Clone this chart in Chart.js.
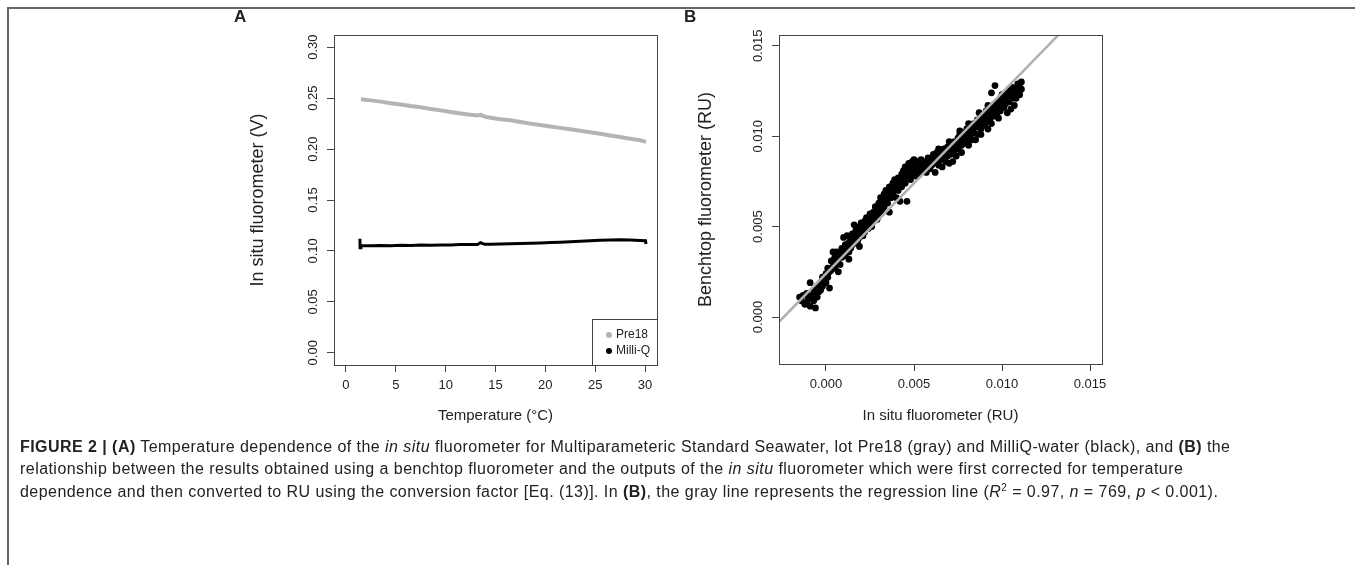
<!DOCTYPE html>
<html>
<head>
<meta charset="utf-8">
<script src="https://cdn.jsdelivr.net/npm/chart.js@4.4.0/dist/chart.umd.min.js"></script>
<style>
  body { margin: 0; background: #fff; }
  #page { position: relative; width: 1355px; height: 565px; overflow: hidden; background: #fff;
          font-family: "Liberation Sans", Arial, sans-serif; color: #222; }
  .frameTop { position: absolute; left: 8px; top: 7px; width: 1347px; height: 2px; background: #666; }
  .frameLeft { position: absolute; left: 7px; top: 7px; width: 2px; height: 558px; background: #666; }
  canvas { position: absolute; }
  .plab { position: absolute; font-weight: bold; font-size: 17px; }
  .legend { position: absolute; left: 592px; top: 319px; width: 64px; height: 45px; border: 1px solid #444;
            font-size: 12px; }
  .legend div { position: absolute; left: 23px; }
  .legend span { position: absolute; left: -10px; top: 5px; width: 6px; height: 6px; border-radius: 50%; }
  .cap { position: absolute; left: 20px; white-space: nowrap; font-family: "Liberation Sans", Arial, sans-serif;
         font-size: 16px; letter-spacing: 0.45px; color: #222; }
</style>
</head>
<body>
<div id="page">
  <div class="frameTop"></div>
  <div class="frameLeft"></div>
  <canvas id="chartA" width="440" height="440" style="left:230px;top:0"></canvas>
  <canvas id="chartB" width="440" height="440" style="left:680px;top:0"></canvas>
  <div class="plab" style="left:234px;top:7px">A</div>
  <div class="plab" style="left:684px;top:7px">B</div>
  <div class="legend">
    <div style="top:7px"><span style="background:#b4b4b4"></span>Pre18</div>
    <div style="top:23px"><span style="background:#000"></span>Milli-Q</div>
  </div>
  <div class="cap" style="top:438px"><b>FIGURE 2 | (A)</b> Temperature dependence of the <i>in situ</i> fluorometer for Multiparameteric Standard Seawater, lot Pre18 (gray) and MilliQ-water (black), and <b>(B)</b> the</div>
  <div class="cap" style="top:460px">relationship between the results obtained using a benchtop fluorometer and the outputs of the <i>in situ</i> fluorometer which were first corrected for temperature</div>
  <div class="cap" style="top:482px">dependence and then converted to RU using the conversion factor [Eq. (13)]. In <b>(B)</b>, the gray line represents the regression line (<i>R</i><sup style="font-size:10px">2</sup> = 0.97, <i>n</i> = 769, <i>p</i> &lt; 0.001).</div>
</div>
<script>
// ---- panel A data: temperature dependence ----
var preTemp = [1.5, 2.5, 3.5, 4.5, 5.5, 6.5, 7.5, 8.5, 9.5, 10.5, 11.5, 12.5, 13.2, 13.5, 13.9, 14.5, 15.5, 16.5,
  17.5, 18.5, 19.5, 20.5, 21.5, 22.5, 23.5, 24.5, 25.5, 26.5, 27.5, 28.5, 29.5, 30.1];
var preVolt = [0.2490, 0.2478, 0.2466, 0.2449, 0.2437, 0.2422, 0.2410, 0.2393, 0.2380, 0.2364, 0.2349, 0.2336,
  0.2330, 0.2336, 0.2318, 0.2308, 0.2293, 0.2282, 0.2265, 0.2250, 0.2236, 0.2222, 0.2208, 0.2194, 0.2180,
  0.2165, 0.2150, 0.2134, 0.2118, 0.2102, 0.2086, 0.2070];
var mqTemp = [1.40, 1.42, 1.5, 2.5, 3.5, 4.5, 5.5, 6.5, 7.5, 8.5, 9.5, 10.5, 11.5, 12.5, 13.2, 13.5, 13.9, 14.5,
  15.5, 16.5, 17.5, 18.5, 19.5, 20.5, 21.5, 22.5, 23.5, 24.5, 25.5, 26.5, 27.5, 28.5, 29.5, 30.05, 30.1];
var mqVolt = [0.1120, 0.1030, 0.1052, 0.1050, 0.1053, 0.1051, 0.1055, 0.1054, 0.1057, 0.1056, 0.1059, 0.1058,
  0.1062, 0.1063, 0.1064, 0.1082, 0.1065, 0.1066, 0.1068, 0.1071, 0.1073, 0.1076, 0.1078, 0.1082, 0.1085,
  0.1090, 0.1095, 0.1101, 0.1106, 0.1108, 0.1110, 0.1107, 0.1103, 0.1100, 0.1068];
var tempTicks = [0, 5, 10, 15, 20, 25, 30];
var voltTicks = [0, 0.05, 0.10, 0.15, 0.20, 0.25, 0.30];

// ---- panel B data: benchtop vs in situ (RU) ----
var insituRU = [-0.0015, -0.0014, -0.0013, -0.0012, -0.0011, -0.0011, -0.0010, -0.0009, -0.0009, -0.0008,
  -0.0007, -0.0007, -0.0006, -0.0006, -0.0005, -0.0005, -0.0004, -0.0003, -0.0003, -0.0002, -0.0002, -0.0001,
  0.0000, 0.0000, 0.0001, 0.0001, 0.0002, 0.0003, 0.0003, 0.0004, 0.0005, 0.0005, 0.0006, 0.0006, 0.0007,
  0.0008, 0.0008, 0.0009, 0.0009, 0.0010, 0.0011, 0.0011, 0.0012, 0.0012, 0.0013, 0.0013, 0.0014, 0.0014,
  0.0015, 0.0015, 0.0016, 0.0017, 0.0017, 0.0018, 0.0018, 0.0019, 0.0019, 0.0020, 0.0020, 0.0021, 0.0021,
  0.0022, 0.0022, 0.0023, 0.0023, 0.0024, 0.0024, 0.0025, 0.0025, 0.0026, 0.0026, 0.0027, 0.0027, 0.0028,
  0.0028, 0.0029, 0.0029, 0.0030, 0.0030, 0.0031, 0.0031, 0.0032, 0.0032, 0.0033, 0.0033, 0.0034, 0.0034,
  0.0035, 0.0035, 0.0036, 0.0036, 0.0037, 0.0037, 0.0038, 0.0038, 0.0039, 0.0039, 0.0040, 0.0040, 0.0041,
  0.0041, 0.0042, 0.0042, 0.0043, 0.0043, 0.0044, 0.0044, 0.0045, 0.0045, 0.0046, 0.0046, 0.0047, 0.0047,
  0.0048, 0.0048, 0.0049, 0.0049, 0.0050, 0.0050, 0.0051, 0.0051, 0.0052, 0.0052, 0.0053, 0.0053, 0.0054,
  0.0054, 0.0055, 0.0055, 0.0056, 0.0057, 0.0057, 0.0058, 0.0058, 0.0059, 0.0060, 0.0060, 0.0061, 0.0061,
  0.0062, 0.0063, 0.0063, 0.0064, 0.0064, 0.0065, 0.0065, 0.0066, 0.0067, 0.0067, 0.0068, 0.0068, 0.0069,
  0.0069, 0.0070, 0.0071, 0.0071, 0.0072, 0.0072, 0.0073, 0.0073, 0.0074, 0.0075, 0.0075, 0.0076, 0.0076,
  0.0077, 0.0078, 0.0078, 0.0079, 0.0079, 0.0080, 0.0080, 0.0081, 0.0082, 0.0082, 0.0083, 0.0083, 0.0084,
  0.0084, 0.0085, 0.0086, 0.0086, 0.0087, 0.0088, 0.0088, 0.0089, 0.0089, 0.0090, 0.0090, 0.0091, 0.0091,
  0.0092, 0.0093, 0.0093, 0.0094, 0.0095, 0.0095, 0.0096, 0.0096, 0.0097, 0.0097, 0.0098, 0.0099, 0.0099,
  0.0100, 0.0100, 0.0101, 0.0101, 0.0102, 0.0102, 0.0103, 0.0104, 0.0104, 0.0105, 0.0105, 0.0106, 0.0106,
  0.0107, 0.0108, 0.0108, 0.0109, 0.0109, 0.0110, 0.0110, 0.0111, 0.0111,
  0.0062, 0.0066, 0.0070, 0.0074, 0.0077, 0.0081, 0.0085, 0.0088, 0.0092, 0.0094, 0.0098, 0.0103, 0.0107,
  0.0064, 0.0070, 0.0076, 0.0081, 0.0087, 0.0092, 0.0094,
  0.0002, 0.0007, 0.0013, 0.0019, 0.0016, 0.0010, 0.0004];
var benchRU = [0.0011, 0.0009, 0.0012, 0.0007, 0.0008, 0.0013, 0.0010, 0.0019, 0.0006, 0.0012,
  0.0015, 0.0009, 0.0005, 0.0013, 0.0017, 0.0011, 0.0014, 0.0019, 0.0015, 0.0022, 0.0017, 0.0020,
  0.0024, 0.0019, 0.0027, 0.0022, 0.0025, 0.0031, 0.0026, 0.0028, 0.0033, 0.0027, 0.0036, 0.0030, 0.0032,
  0.0035, 0.0029, 0.0038, 0.0033, 0.0036, 0.0040, 0.0034, 0.0045, 0.0038, 0.0036, 0.0041, 0.0043, 0.0038,
  0.0046, 0.0040, 0.0044, 0.0048, 0.0041, 0.0046, 0.0042, 0.0050, 0.0044, 0.0047, 0.0052, 0.0045, 0.0049,
  0.0053, 0.0047, 0.0051, 0.0055, 0.0049, 0.0054, 0.0052, 0.0057, 0.0050, 0.0055, 0.0058, 0.0053, 0.0056,
  0.0061, 0.0054, 0.0059, 0.0063, 0.0057, 0.0060, 0.0066, 0.0058, 0.0063, 0.0068, 0.0061, 0.0065, 0.0070,
  0.0063, 0.0068, 0.0072, 0.0058, 0.0066, 0.0071, 0.0074, 0.0068, 0.0071, 0.0076, 0.0066, 0.0073, 0.0077,
  0.0070, 0.0075, 0.0064, 0.0079, 0.0072, 0.0076, 0.0081, 0.0074, 0.0083, 0.0078, 0.0064, 0.0085, 0.0080,
  0.0076, 0.0083, 0.0086, 0.0079, 0.0082, 0.0087, 0.0078, 0.0084, 0.0086, 0.0081, 0.0085, 0.0079, 0.0083,
  0.0087, 0.0081, 0.0085, 0.0083, 0.0086, 0.0080, 0.0088, 0.0084, 0.0082, 0.0087, 0.0084, 0.0090, 0.0085,
  0.0088, 0.0091, 0.0086, 0.0089, 0.0084, 0.0092, 0.0087, 0.0090, 0.0093, 0.0088, 0.0091, 0.0086, 0.0094,
  0.0089, 0.0092, 0.0096, 0.0090, 0.0086, 0.0094, 0.0097, 0.0092, 0.0095, 0.0099, 0.0093, 0.0097, 0.0101,
  0.0095, 0.0099, 0.0102, 0.0096, 0.0100, 0.0104, 0.0098, 0.0102, 0.0100, 0.0106, 0.0103, 0.0098, 0.0107,
  0.0102, 0.0105, 0.0109, 0.0101, 0.0106, 0.0110, 0.0104, 0.0108, 0.0112, 0.0106, 0.0110, 0.0114, 0.0108,
  0.0112, 0.0116, 0.0109, 0.0113, 0.0117, 0.0111, 0.0128, 0.0115, 0.0119, 0.0112, 0.0117, 0.0121, 0.0114,
  0.0118, 0.0123, 0.0116, 0.0120, 0.0124, 0.0118, 0.0122, 0.0126, 0.0119, 0.0115, 0.0124, 0.0121, 0.0127,
  0.0123, 0.0126, 0.0121, 0.0125, 0.0129, 0.0127, 0.0123, 0.0130, 0.0126,
  0.0080, 0.0083, 0.0085, 0.0089, 0.0091, 0.0095, 0.0098, 0.0101, 0.0104, 0.0107, 0.0110, 0.0113, 0.0117,
  0.0093, 0.0097, 0.0103, 0.0107, 0.0113, 0.0117, 0.0124,
  0.0016, 0.0025, 0.0032, 0.0039, 0.0051, 0.0044, 0.0036];
var regX = [-0.0035, 0.0140];   // regression line end points (clipped by the axes)
var regY = [-0.0011, 0.0164];
var ruTicks = [0, 0.005, 0.010, 0.015];

function pairs(xs, ys) {
  return xs.map(function (x, i) { return {x: x, y: ys[i]}; });
}

// R style box round the plot area
var boxPlugin = {
  id: 'box',
  afterDraw: function (chart) {
    var a = chart.chartArea, c = chart.ctx;
    c.save();
    c.strokeStyle = '#444';
    c.lineWidth = 1;
    c.strokeRect(Math.round(a.left) + 0.5, Math.round(a.top) + 0.5, Math.round(a.right - a.left), Math.round(a.bottom - a.top));
    c.restore();
  }
};

var tickFont = {family: 'Liberation Sans, Arial, sans-serif', size: 13};
var tickColor = '#222';

function axisX(min, max, ticks, title, fmt, h) {
  return {
    type: 'linear', min: min, max: max,
    afterBuildTicks: function (s) { s.ticks = ticks.map(function (v) { return {value: v}; }); },
    afterFit: function (s) { s.height = h; },
    grid: {drawOnChartArea: false, drawTicks: true, tickLength: 7, color: '#444'},
    border: {display: false},
    ticks: {font: tickFont, color: tickColor, padding: 6, maxRotation: 0, callback: fmt},
    title: {display: true, text: title, color: '#222', padding: {top: 0, bottom: 15},
      font: {family: 'Liberation Sans Narrow, Liberation Sans, Arial, sans-serif', size: 15}}
  };
}
function axisY(min, max, ticks, title, fmt, w, pad, titlePad) {
  return {
    type: 'linear', min: min, max: max,
    afterBuildTicks: function (s) { s.ticks = ticks.map(function (v) { return {value: v}; }); },
    afterFit: function (s) { s.width = w; },
    grid: {drawOnChartArea: false, drawTicks: true, tickLength: 7, color: '#444'},
    border: {display: false},
    ticks: {font: tickFont, color: tickColor, padding: pad, minRotation: 90, maxRotation: 90,
      crossAlign: 'center', callback: fmt},
    title: {display: true, text: title, color: '#222', padding: {top: titlePad, bottom: 0},
      font: {family: 'Liberation Sans, Arial, sans-serif', size: 18}}
  };
}

var common = {
  responsive: false, animation: false, devicePixelRatio: 1,
  plugins: {legend: {display: false}, tooltip: {enabled: false}}
};

new Chart(document.getElementById('chartA').getContext('2d'), {
  type: 'scatter',
  data: {
    datasets: [{
      label: 'Milli-Q', data: pairs(mqTemp, mqVolt), showLine: true,
      borderColor: '#000', borderWidth: 3, pointRadius: 0, tension: 0
    }, {
      label: 'Pre18', data: pairs(preTemp, preVolt), showLine: true,
      borderColor: '#b4b4b4', borderWidth: 4, pointRadius: 0, tension: 0
    }]
  },
  options: Object.assign({}, common, {
    layout: {padding: {top: 35, right: 13, left: 0, bottom: 0}},
    scales: {
      x: axisX(-1.2, 31.2, tempTicks, 'Temperature (°C)', function (v) { return String(v); }, 75),
      y: axisY(-0.012, 0.312, voltTicks, 'In situ fluorometer (V)', function (v) { return v.toFixed(2); }, 104, 1, 17)
    }
  }),
  plugins: [boxPlugin]
});

new Chart(document.getElementById('chartB').getContext('2d'), {
  type: 'scatter',
  data: {
    datasets: [{
      label: 'regression', data: pairs(regX, regY), showLine: true,
      borderColor: '#b0b0b0', borderWidth: 2.5, pointRadius: 0
    }, {
      label: 'samples', data: pairs(insituRU, benchRU),
      backgroundColor: '#000', borderWidth: 0, pointRadius: 3.4
    }]
  },
  options: Object.assign({}, common, {
    layout: {padding: {top: 35, right: 18, left: 0, bottom: 0}},
    scales: {
      x: axisX(-0.00267, 0.01568, ruTicks, 'In situ fluorometer (RU)', function (v) { return v.toFixed(3); }, 76),
      y: axisY(-0.0026, 0.0156, ruTicks, 'Benchtop fluorometer (RU)', function (v) { return v.toFixed(3); }, 99, -3, 15)
    }
  }),
  plugins: [boxPlugin]
});
</script>
</body>
</html>
